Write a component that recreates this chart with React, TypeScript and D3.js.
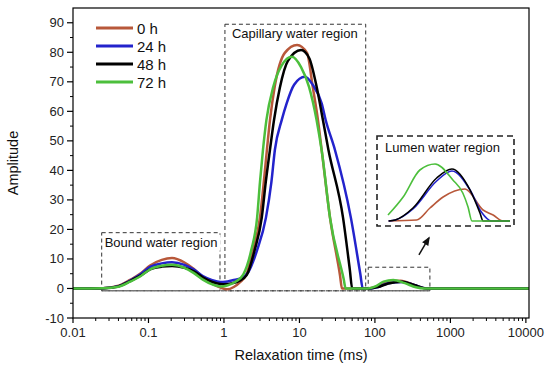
import React from 'react';
import * as d3 from 'd3';

type Pt = [number, number];

// relaxation time (ms), amplitude
const series0h: Pt[] = [
  [0.01, 0], [0.025, 0.1], [0.04, 0.9], [0.057, 2.9], [0.08, 5.2], [0.105, 7.8], [0.15, 9.7],
  [0.205, 10.3], [0.3, 8.8], [0.4, 6.6], [0.525, 3.8], [0.7, 1.6], [0.9, 0.3], [1.1, -0.3],
  [1.35, 0.5], [1.65, 2.2], [2.0, 5], [2.42, 13], [3.0, 24], [3.37, 36], [3.71, 47], [4.07, 57],
  [4.7, 68.3], [6.4, 79.8], [9.3, 82.5], [12.6, 79.8], [15, 68.3], [17.6, 57], [19.9, 46],
  [25.4, 24], [34.5, 4.4], [36.6, 0], [80, 0], [100, 0.5], [150, 2.2], [220, 2.6], [330, 1.2], [480, 0], [11000, 0],
];
const series24h: Pt[] = [
  [0.01, 0], [0.025, 0.1], [0.04, 0.8], [0.057, 2.7], [0.08, 5], [0.105, 7.3], [0.15, 8.5],
  [0.205, 8.9], [0.3, 8.0], [0.4, 6.4], [0.525, 4.2], [0.7, 2.8], [0.9, 2.2], [1.05, 2.3],
  [1.3, 2.8], [1.7, 3.5], [2.1, 5.5], [2.75, 13], [3.6, 24], [4.25, 36], [4.73, 47], [5.82, 57],
  [6.77, 62.7], [8.5, 69], [11.8, 71.7], [15, 69], [19.7, 62.7], [22.3, 57], [29.5, 47],
  [48, 24], [64, 5], [69, 0], [90, 0], [110, 0.5], [150, 1.8], [230, 2.2], [330, 1.2], [480, 0], [11000, 0],
];
const series48h: Pt[] = [
  [0.01, 0], [0.025, 0.1], [0.04, 0.7], [0.057, 2.5], [0.08, 4.5], [0.105, 6.5], [0.15, 7.4],
  [0.205, 7.6], [0.3, 7.0], [0.4, 5.8], [0.525, 3.8], [0.7, 2.2], [0.9, 1.5], [1.05, 1.4],
  [1.3, 1.8], [1.6, 2.6], [2.0, 4.5], [2.55, 13], [3.17, 24], [3.58, 36], [4.07, 47], [4.6, 57],
  [5.5, 68], [7, 77], [10.5, 80.8], [13.5, 78], [16.9, 68.3], [20.5, 57], [24.2, 47],
  [37.8, 24], [46.5, 6.4], [50, 0], [85, 0], [110, 0.5], [150, 1.7], [230, 2.3], [330, 1.2], [480, 0], [11000, 0],
];
const series72h: Pt[] = [
  [0.01, 0], [0.025, 0.1], [0.04, 0.6], [0.057, 2.3], [0.08, 4.3], [0.105, 6.5], [0.15, 7.7],
  [0.205, 8.0], [0.3, 7.0], [0.4, 5.2], [0.525, 3.0], [0.7, 1.4], [0.9, 0.7], [1.1, 1.0],
  [1.4, 2.2], [1.8, 4.7], [2.3, 13], [2.75, 24], [3.0, 36], [3.29, 47], [3.65, 57], [4.5, 68.3],
  [5.8, 75.5], [7.96, 78.5], [10.5, 75], [13.4, 68.3], [16.9, 57], [19.9, 46], [25.4, 24],
  [38.5, 3.3], [41, 0], [80, 0], [100, 0.6], [130, 2.3], [175, 2.9], [250, 1.8], [350, 0.4], [450, 0], [11000, 0],
];

// enlarged lumen water region (inset)
const inset0h: Pt[] = [
  [84, 0], [141, 0.05], [181, 0.65], [231, 1.2], [347, 1.6], [485, 0.55], [585, 0.3], [703, 0], [800, 0],
];
const inset24h: Pt[] = [
  [84, 0], [95, 0.05], [132, 0.6], [205, 2.0], [272, 2.5], [381, 1.55], [470, 0.45], [568, 0], [800, 0],
];
const inset48h: Pt[] = [
  [84, 0], [95, 0.05], [132, 0.65], [205, 2.15], [272, 2.6], [381, 1.55], [458, 0.4], [485, 0], [800, 0],
];
const inset72h: Pt[] = [
  [83, 0.3], [110, 1.2], [150, 2.55], [199, 2.85], [277, 2.05], [333, 1.4], [367, 0.7], [395, 0], [800, 0],
];

const seriesNames = ['0 h', '24 h', '48 h', '72 h'];
const seriesColors = ['#b8583a', '#2323cc', '#000000', '#4cbf3c'];
const mainSeries = [series0h, series24h, series48h, series72h];
const insetSeries = [inset0h, inset24h, inset48h, inset72h];

const xTicks = [0.01, 0.1, 1, 10, 100, 1000, 10000];
const xTickLabels = ['0.01', '0.1', '1', '10', '100', '1000', '10000'];
const yTicks = [-10, 0, 10, 20, 30, 40, 50, 60, 70, 80, 90];

// region boxes: [t0, t1, ampTop, ampBottom]
const boundBox = [0.024, 0.886, 18.9, -0.8];
const capillaryBox = [1.03, 75.5, 89.5, -0.8];
const lumenBox = [81.5, 535, 7.2, -0.8];
const arrowFrom: Pt = [383, 11.4];
const arrowTo: Pt = [519, 17.1];

const W = 550;
const H = 369;
const font = 'Liberation Sans, Arial, Helvetica, sans-serif';

const App: React.FC = () => {
  const x = d3.scaleLog().domain([0.01, 11000]).range([73, 529]);
  const y = d3.scaleLinear().domain([-10, 95]).range([318, 8]);

  const line = d3.line<Pt>()
    .x(d => x(d[0]))
    .y(d => y(d[1]))
    .curve(d3.curveMonotoneX);

  // inset scales
  const ix = d3.scaleLog().domain([80, 800]).range([386, 510]);
  const iy = d3.scaleLinear().domain([0, 3]).range([221, 161]);
  const insetLine = d3.line<Pt>()
    .x(d => ix(d[0]))
    .y(d => iy(d[1]))
    .curve(d3.curveMonotoneX);

  const minorX: number[] = [];
  for (let e = -2; e < 4; e++) {
    for (let k = 2; k <= 9; k++) minorX.push(k * Math.pow(10, e));
  }
  const minorY = d3.range(-5, 95, 10);

  const box = (b: number[], key: string) => (
    <rect key={key}
      x={x(b[0])} y={y(b[2])}
      width={x(b[1]) - x(b[0])} height={y(b[3]) - y(b[2])}
      fill="none" stroke="#333" strokeWidth={1} strokeDasharray="4,3" />
  );

  return (
    <svg width={W} height={H} style={{ position: 'absolute', left: 0, top: 0, background: '#fff' }}
      fontFamily={font}>
      <defs>
        <clipPath id="plot-clip">
          <rect x={73} y={8} width={456} height={310} />
        </clipPath>
        <marker id="arrowhead" viewBox="0 0 10 10" refX="8" refY="5"
          markerWidth="6" markerHeight="6" orient="auto">
          <path d="M0,1 L10,5 L0,9 Z" fill="#111" />
        </marker>
      </defs>

      {/* region boxes */}
      {box(boundBox, 'bound')}
      {box(capillaryBox, 'cap')}
      {box(lumenBox, 'lumen')}
      <line x1={x(boundBox[0])} x2={x(lumenBox[1])} y1={y(-0.8)} y2={y(-0.8)}
        stroke="#333" strokeWidth={1} strokeDasharray="4,3" />

      <rect x={x(boundBox[0]) + 3} y={y(boundBox[2]) + 2} width={116} height={16} fill="#fff" />
      <text x={x(boundBox[0]) + 3} y={y(boundBox[2]) + 14} fontSize={13} fill="#111">Bound water region</text>
      <text x={x(capillaryBox[0]) + 7} y={y(capillaryBox[2]) + 14} fontSize={13} fill="#111">Capillary water region</text>

      {/* curves */}
      <g clipPath="url(#plot-clip)">
        {mainSeries.map((s, i) => (
          <path key={i} d={line(s) || ''} fill="none" stroke={seriesColors[i]}
            strokeWidth={2.5} strokeLinejoin="round" />
        ))}
      </g>

      {/* inset */}
      <rect x={377} y={136} width={137} height={90} fill="#fff" stroke="#222"
        strokeWidth={1.6} strokeDasharray="6,4" />
      <text x={385} y={152} fontSize={13} fill="#111">Lumen water region</text>
      {insetSeries.map((s, i) => (
        <path key={i} d={insetLine(s) || ''} fill="none" stroke={seriesColors[i]}
          strokeWidth={1.6} strokeLinejoin="round" />
      ))}
      <line x1={x(arrowFrom[0])} y1={y(arrowFrom[1])} x2={x(arrowTo[0])} y2={y(arrowTo[1])}
        stroke="#111" strokeWidth={1.5} markerEnd="url(#arrowhead)" />

      {/* frame */}
      <rect x={73} y={8} width={456} height={310} fill="none" stroke="#000" strokeWidth={1.2} />

      {/* x axis */}
      {xTicks.map((t, i) => (
        <g key={t}>
          <line x1={x(t)} x2={x(t)} y1={318} y2={323} stroke="#000" strokeWidth={1.2} />
          <text x={x(t)} y={337} fontSize={13} textAnchor="middle" fill="#222">{xTickLabels[i]}</text>
        </g>
      ))}
      {minorX.map(t => (
        <line key={'mx' + t} x1={x(t)} x2={x(t)} y1={318} y2={321} stroke="#000" strokeWidth={1} />
      ))}
      <text x={301} y={360} fontSize={14.5} textAnchor="middle" fill="#111">Relaxation time (ms)</text>

      {/* y axis */}
      {yTicks.map(v => (
        <g key={v}>
          <line x1={67} x2={73} y1={y(v)} y2={y(v)} stroke="#000" strokeWidth={1.2} />
          <text x={64} y={y(v) + 4.5} fontSize={13} textAnchor="end" fill="#222">{v}</text>
        </g>
      ))}
      {minorY.map(v => (
        <line key={'my' + v} x1={70} x2={73} y1={y(v)} y2={y(v)} stroke="#000" strokeWidth={1} />
      ))}
      <text transform={`translate(18,163) rotate(-90)`} fontSize={14.5} textAnchor="middle" fill="#111">Amplitude</text>

      {/* legend */}
      {seriesNames.map((n, i) => (
        <g key={n} transform={`translate(0,${28 + i * 18})`}>
          <line x1={96} x2={133} y1={0} y2={0} stroke={seriesColors[i]} strokeWidth={2.8} />
          <text x={137} y={5.5} fontSize={15} fill="#111">{n}</text>
        </g>
      ))}
    </svg>
  );
};

export default App;
